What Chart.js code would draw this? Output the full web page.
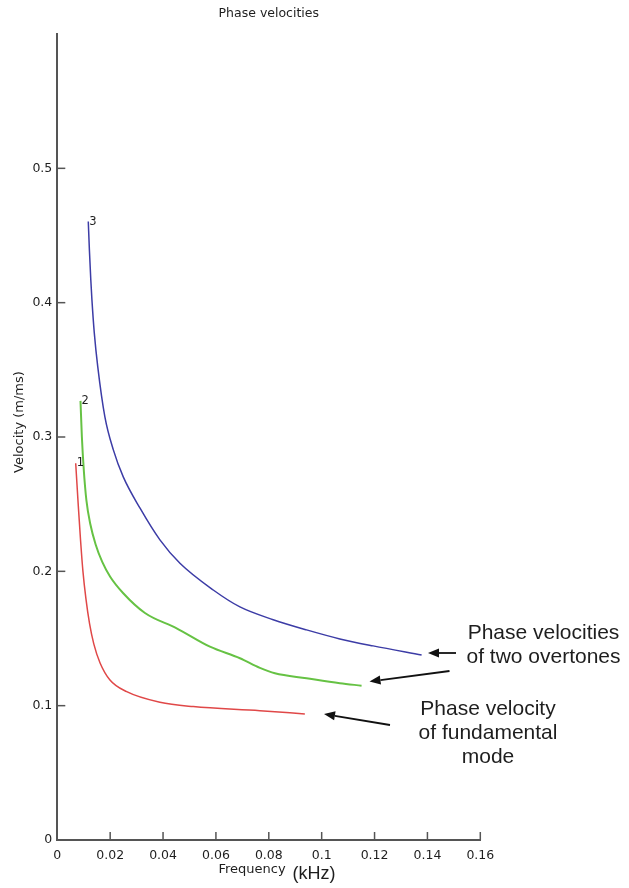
<!DOCTYPE html>
<html>
<head>
<meta charset="utf-8">
<script src="https://cdn.jsdelivr.net/npm/chart.js@4.4.1/dist/chart.umd.min.js"></script>
<style>
  html, body { margin: 0; padding: 0; background: #fff; }
  #wrap { width: 629px; height: 888px; }
</style>
</head>
<body>
<div id="wrap"><canvas id="c" width="629" height="888"></canvas></div>
<script>
// ---- data (kHz, m/ms) ----
const mode1Freq = [0.00696, 0.00790, 0.00880, 0.00970, 0.01080, 0.01220, 0.01380, 0.01614, 0.01992, 0.02624, 0.03883, 0.05142, 0.07664, 0.09364];
const mode1Vel  = [0.2805, 0.2500, 0.2230, 0.2000, 0.1800, 0.1610, 0.1460, 0.1320, 0.1191, 0.1104, 0.1025, 0.0993, 0.0963, 0.0938];

const mode2Freq = [0.00877, 0.00930, 0.01000, 0.01100, 0.01250, 0.01450, 0.01700, 0.02000, 0.02495, 0.03316, 0.04514, 0.05773, 0.06908, 0.07664, 0.08231, 0.09429, 0.10688, 0.11509];
const mode2Vel  = [0.3269, 0.3000, 0.2760, 0.2530, 0.2350, 0.2200, 0.2070, 0.1960, 0.1837, 0.1690, 0.1576, 0.1439, 0.1353, 0.1281, 0.1241, 0.1204, 0.1167, 0.1149];

const mode3Freq = [0.01172, 0.01214, 0.01267, 0.01310, 0.01399, 0.01531, 0.01800, 0.02120, 0.02495, 0.03130, 0.03882, 0.04639, 0.05899, 0.06908, 0.08167, 0.09429, 0.10688, 0.11947, 0.13780];
const mode3Vel  = [0.4604, 0.4393, 0.4170, 0.4021, 0.3775, 0.3522, 0.3150, 0.2904, 0.2703, 0.2470, 0.2234, 0.2060, 0.1861, 0.1735, 0.1640, 0.1564, 0.1497, 0.1445, 0.1378];

const modeNames = ['1', '2', '3'];
const xTickValues = [0, 0.02, 0.04, 0.06, 0.08, 0.1, 0.12, 0.14, 0.16];
const xTickLabels = ['0', '0.02', '0.04', '0.06', '0.08', '0.1', '0.12', '0.14', '0.16'];
const yTickValues = [0, 0.1, 0.2, 0.3, 0.4, 0.5];
const yTickLabels = ['0', '0.1', '0.2', '0.3', '0.4', '0.5'];

const zip = (xs, ys) => xs.map((x, i) => ({ x: x, y: ys[i] }));

const AXIS = '#555555';
const TXT = '#1e1e1e';
const SMALL = { family: 'DejaVu Sans', size: 12.5, weight: 'normal' };

const extras = {
  id: 'extras',
  afterDraw(chart) {
    const ctx = chart.ctx;
    const xs = chart.scales.x, ys = chart.scales.y;
    const a = chart.chartArea;
    ctx.save();
    // inward tick marks
    ctx.strokeStyle = AXIS; ctx.lineWidth = 1.5;
    xTickValues.slice(1).forEach(v => {
      const px = xs.getPixelForValue(v);
      ctx.beginPath(); ctx.moveTo(px, a.bottom); ctx.lineTo(px, a.bottom - 8); ctx.stroke();
    });
    yTickValues.slice(1).forEach(v => {
      const py = ys.getPixelForValue(v);
      ctx.beginPath(); ctx.moveTo(a.left, py); ctx.lineTo(a.left + 8, py); ctx.stroke();
    });
    // mode numbers at curve starts
    ctx.fillStyle = TXT; ctx.font = '11.5px "DejaVu Sans"';
    ctx.textAlign = 'left'; ctx.textBaseline = 'middle';
    chart.data.datasets.forEach((ds, i) => {
      const p = chart.getDatasetMeta(i).data[0];
      ctx.fillText(modeNames[i], p.x + 1, p.y);
    });
    // axis titles
    ctx.font = '13px "DejaVu Sans"'; ctx.textAlign = 'left'; ctx.textBaseline = 'alphabetic';
    ctx.fillText('Frequency', 218.5, 873);
    ctx.font = '18px "Liberation Sans"';
    ctx.fillText('(kHz)', 292.5, 879);
    ctx.save();
    ctx.translate(20, 422); ctx.rotate(-Math.PI / 2);
    ctx.font = '13px "DejaVu Sans"'; ctx.textAlign = 'center'; ctx.textBaseline = 'middle';
    ctx.fillText('Velocity (m/ms)', 0, 0);
    ctx.restore();
    // annotations
    ctx.font = '21px "Liberation Sans"'; ctx.textAlign = 'center'; ctx.fillStyle = TXT;
    ctx.fillText('Phase velocities', 543.5, 639);
    ctx.fillText('of two overtones', 543.5, 663);
    ctx.fillText('Phase velocity', 488, 715);
    ctx.fillText('of fundamental', 488, 739);
    ctx.fillText('mode', 488, 763);
    // arrows
    const arrow = (x1, y1, x2, y2) => {
      const ang = Math.atan2(y2 - y1, x2 - x1);
      const L = 11, W = 4.5;
      const bx = x2 - L * Math.cos(ang), by = y2 - L * Math.sin(ang);
      ctx.strokeStyle = '#111'; ctx.fillStyle = '#111'; ctx.lineWidth = 1.8;
      ctx.beginPath(); ctx.moveTo(x1, y1); ctx.lineTo(bx, by); ctx.stroke();
      ctx.beginPath();
      ctx.moveTo(x2, y2);
      ctx.lineTo(bx + W * Math.sin(ang), by - W * Math.cos(ang));
      ctx.lineTo(bx - W * Math.sin(ang), by + W * Math.cos(ang));
      ctx.closePath(); ctx.fill();
    };
    arrow(456, 653, 428, 653);
    arrow(449.5, 671, 369.5, 681.5);
    arrow(390, 725, 324, 714);
    ctx.restore();
  }
};

new Chart(document.getElementById('c'), {
  type: 'scatter',
  data: {
    datasets: [
      { label: 'Mode 1', data: zip(mode1Freq, mode1Vel), borderColor: '#e04848', borderWidth: 1.5 },
      { label: 'Mode 2', data: zip(mode2Freq, mode2Vel), borderColor: '#66c244', borderWidth: 2 },
      { label: 'Mode 3', data: zip(mode3Freq, mode3Vel), borderColor: '#3c3ca6', borderWidth: 1.5 }
    ].map(d => Object.assign(d, { showLine: true, pointRadius: 0, pointHoverRadius: 0, cubicInterpolationMode: 'monotone', fill: false }))
  },
  options: {
    responsive: false,
    animation: false,
    devicePixelRatio: 1,
    layout: { padding: { left: 0, right: 148.7, top: 0, bottom: 0 } },
    plugins: {
      legend: { display: false },
      tooltip: { enabled: false },
      title: {
        display: true, text: 'Phase velocities', fullSize: false,
        font: SMALL, color: TXT, padding: { top: 6.5, bottom: 12.5 }
      }
    },
    scales: {
      x: {
        type: 'linear', position: 'bottom', min: 0, max: 0.16,
        afterBuildTicks: s => { s.ticks = xTickValues.map(v => ({ value: v })); },
        afterFit: s => { s.height = 48; },
        grid: { display: false, drawTicks: false },
        border: { display: true, color: AXIS, width: 2 },
        ticks: { callback: (v, i) => xTickLabels[i], font: SMALL, color: TXT, padding: 8, maxRotation: 0, autoSkip: false }
      },
      y: {
        type: 'linear', position: 'left', min: 0, max: 0.6,
        afterBuildTicks: s => { s.ticks = yTickValues.map(v => ({ value: v })); },
        afterFit: s => { s.width = 57.3; },
        grid: { display: false, drawTicks: false },
        border: { display: true, color: AXIS, width: 2 },
        ticks: { callback: (v, i) => yTickLabels[i], font: SMALL, color: TXT, padding: 5, autoSkip: false }
      }
    }
  },
  plugins: [extras]
});
</script>
</body>
</html>
